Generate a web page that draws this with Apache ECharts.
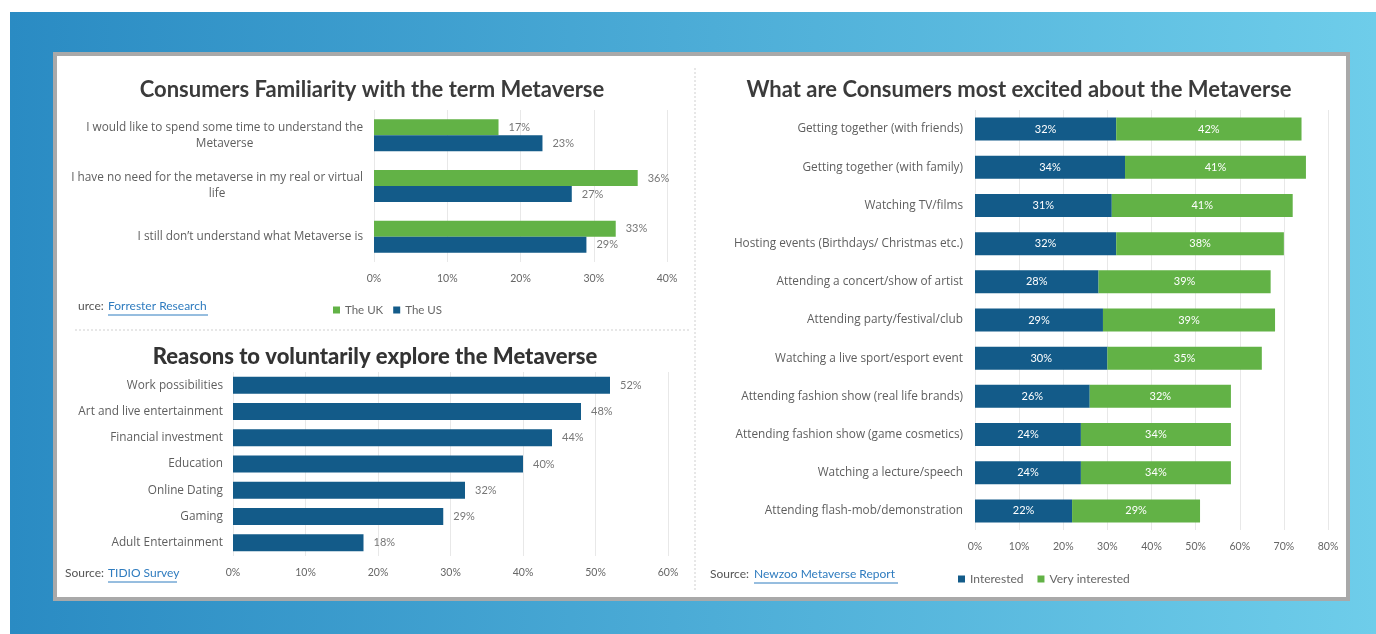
<!DOCTYPE html>
<html>
<head>
<meta charset="utf-8">
<script src="https://cdn.jsdelivr.net/npm/echarts@6/dist/echarts.min.js"></script>
<style>
html,body{margin:0;padding:0;background:#ffffff;}
#chart{width:1376px;height:634px;}
</style>
</head>
<body>
<div id="chart"></div>
<script>
// ---- Data ----
const familiarityCategories = [
  "I would like to spend some time to understand the\nMetaverse",
  "I have no need for the metaverse in my real or virtual\nlife",
  "I still don\u2019t understand what Metaverse is"
];
const familiarityUK = [17, 36, 33];
const familiarityUS = [23, 27, 29];
const familiarityTicks = [0, 40, 10];

const reasonCategories = [
  "Work possibilities",
  "Art and live entertainment",
  "Financial investment",
  "Education",
  "Online Dating",
  "Gaming",
  "Adult Entertainment"
];
const reasonValues = [52, 48, 44, 40, 32, 29, 18];
const reasonTicks = [0, 60, 10];

const excitedCategories = [
  "Getting together (with friends)",
  "Getting together (with family)",
  "Watching TV/films",
  "Hosting events (Birthdays/ Christmas etc.)",
  "Attending a concert/show of artist",
  "Attending party/festival/club",
  "Watching a live sport/esport event",
  "Attending fashion show (real life brands)",
  "Attending fashion show (game cosmetics)",
  "Watching a lecture/speech",
  "Attending flash-mob/demonstration"
];
const interested = [32, 34, 31, 32, 28, 29, 30, 26, 24, 24, 22];
const veryInterested = [42, 41, 41, 38, 39, 39, 35, 32, 34, 34, 29];
const excitedTicks = [0, 80, 10];

// ---- Styles ----
const BLUE = '#135b89';
const GREEN = '#62b246';
const FONT = 'Lato, "Open Sans", sans-serif';
const CATFONT = '"Open Sans", Lato, sans-serif';
const LABEL_GREY = '#5e5e5e';
const GRID_GREY = '#e8e8e8';
const CAT_SIZE = 11.8;

function valueAxis(gridIndex, ticks) {
  return {
    type: 'value', gridIndex: gridIndex, min: ticks[0], max: ticks[1], interval: ticks[2],
    axisLine: {show: false}, axisTick: {show: false},
    splitLine: {show: true, lineStyle: {color: GRID_GREY, width: 1}},
    axisLabel: {formatter: '{value}%', color: '#666', fontSize: 10.5, fontFamily: FONT, margin: 11}
  };
}
function catAxis(gridIndex, cats, extra) {
  return Object.assign({
    type: 'category', gridIndex: gridIndex, data: cats, inverse: true,
    axisLine: {show: false}, axisTick: {show: false},
    axisLabel: {color: LABEL_GREY, fontSize: CAT_SIZE, fontFamily: CATFONT, margin: 10}
  }, extra || {});
}

const chart = echarts.init(document.getElementById('chart'), null, {renderer: 'canvas'});

const option = {
  animation: false,
  textStyle: {fontFamily: FONT},
  title: [
    {text: 'Consumers Familiarity with the term Metaverse', left: 367, top: 74, textAlign: 'center',
      textStyle: {fontSize: 22, fontWeight: 'bold', color: '#3b3b3b', fontFamily: FONT}},
    {text: 'Reasons to voluntarily explore the Metaverse', left: 370, top: 341, textAlign: 'center',
      textStyle: {fontSize: 22, fontWeight: 900, color: '#333', fontFamily: FONT}},
    {text: 'What are Consumers most excited about the Metaverse', left: 1014, top: 74, textAlign: 'center',
      textStyle: {fontSize: 22, fontWeight: 'bold', color: '#3b3b3b', fontFamily: FONT}}
  ],
  legend: [
    {data: ['The UK', 'The US'], left: 328, top: 299, icon: 'rect', itemWidth: 7, itemHeight: 7, itemGap: 10,
      textStyle: {color: '#666', fontSize: 11.5, fontFamily: FONT}, selectedMode: false},
    {data: ['Interested', 'Very interested'], left: 953, top: 568, icon: 'rect', itemWidth: 7, itemHeight: 7, itemGap: 14,
      textStyle: {color: '#666', fontSize: 12, fontFamily: FONT}, selectedMode: false}
  ],
  grid: [
    {left: 374, width: 293, top: 110, height: 152, containLabel: false},
    {left: 233, width: 435, top: 372, height: 184, containLabel: false},
    {left: 975, width: 353, top: 110, height: 420, containLabel: false}
  ],
  xAxis: [valueAxis(0, familiarityTicks), valueAxis(1, reasonTicks), valueAxis(2, excitedTicks)],
  yAxis: [
    catAxis(0, familiarityCategories, {
      axisLabel: {
        margin: 11,
        formatter: function (v) { return v.split('\n').map(function (l) { return '{c|' + l + '}'; }).join('\n'); },
        rich: {c: {align: 'center', color: LABEL_GREY, fontSize: CAT_SIZE, fontFamily: CATFONT, lineHeight: 16}}
      }
    }),
    catAxis(1, reasonCategories),
    catAxis(2, excitedCategories, {axisLabel: {color: LABEL_GREY, fontSize: CAT_SIZE, fontFamily: CATFONT, margin: 12}})
  ],
  series: [
    {name: 'The UK', type: 'bar', xAxisIndex: 0, yAxisIndex: 0, data: familiarityUK, barWidth: 16, barGap: '0%',
      itemStyle: {color: GREEN},
      label: {show: true, position: 'right', distance: 10, formatter: '{c}%', color: '#777', fontSize: 11, fontFamily: FONT}},
    {name: 'The US', type: 'bar', xAxisIndex: 0, yAxisIndex: 0, data: familiarityUS, barWidth: 16, barGap: '0%',
      itemStyle: {color: BLUE},
      label: {show: true, position: 'right', distance: 10, formatter: '{c}%', color: '#777', fontSize: 11, fontFamily: FONT}},
    {name: 'Reasons', type: 'bar', xAxisIndex: 1, yAxisIndex: 1, data: reasonValues, barWidth: 17,
      itemStyle: {color: BLUE},
      label: {show: true, position: 'right', distance: 10, formatter: '{c}%', color: '#777', fontSize: 11, fontFamily: FONT}},
    {name: 'Interested', type: 'bar', xAxisIndex: 2, yAxisIndex: 2, data: interested, barWidth: 23, stack: 'excite',
      itemStyle: {color: BLUE},
      label: {show: true, position: 'inside', formatter: '{c}%', color: '#ffffff', fontSize: 11, fontFamily: FONT}},
    {name: 'Very interested', type: 'bar', xAxisIndex: 2, yAxisIndex: 2, data: veryInterested, barWidth: 23, stack: 'excite',
      itemStyle: {color: GREEN},
      label: {show: true, position: 'inside', formatter: '{c}%', color: '#ffffff', fontSize: 11, fontFamily: FONT}}
  ],
  graphic: {
    elements: [
      {type: 'rect', z: -100, silent: true, shape: {x: 10, y: 12, width: 1366, height: 622},
        style: {fill: new echarts.graphic.LinearGradient(0, 0, 1, 0, [
          {offset: 0, color: '#2a8bc3'}, {offset: 1, color: '#6ecdea'}])}},
      {type: 'rect', z: -90, silent: true, shape: {x: 55, y: 54, width: 1293, height: 545},
        style: {fill: '#ffffff', stroke: '#a9a9a9', lineWidth: 4}},
      {type: 'line', z: -80, silent: true, shape: {x1: 695, y1: 68, x2: 695, y2: 592},
        style: {stroke: '#cfcfcf', lineWidth: 1, lineDash: [2, 2]}},
      {type: 'line', z: -80, silent: true, shape: {x1: 75, y1: 330, x2: 690, y2: 330},
        style: {stroke: '#cfcfcf', lineWidth: 1, lineDash: [2, 2]}},
      // source texts
      {type: 'text', x: 78, y: 300, style: {text: 'urce:', fill: '#555', font: '12px ' + FONT}},
      {type: 'text', x: 108, y: 300, style: {text: 'Forrester Research', fill: '#2f7cbf', font: '12px ' + FONT}},
      {type: 'line', shape: {x1: 108, y1: 315, x2: 208, y2: 315}, style: {stroke: '#2f7cbf', lineWidth: 1}},
      {type: 'text', x: 65, y: 567, style: {text: 'Source:', fill: '#555', font: '12px ' + FONT}},
      {type: 'text', x: 108, y: 567, style: {text: 'TIDIO Survey', fill: '#2f7cbf', font: '12px ' + FONT}},
      {type: 'line', shape: {x1: 108, y1: 582, x2: 177, y2: 582}, style: {stroke: '#2f7cbf', lineWidth: 1}},
      {type: 'text', x: 710, y: 568, style: {text: 'Source:', fill: '#555', font: '12px ' + FONT}},
      {type: 'text', x: 754, y: 568, style: {text: 'Newzoo Metaverse Report', fill: '#2f7cbf', font: '12px ' + FONT}},
      {type: 'line', shape: {x1: 754, y1: 583, x2: 898, y2: 583}, style: {stroke: '#2f7cbf', lineWidth: 1}}
    ]
  }
};
chart.setOption(option);
</script>
</body>
</html>
